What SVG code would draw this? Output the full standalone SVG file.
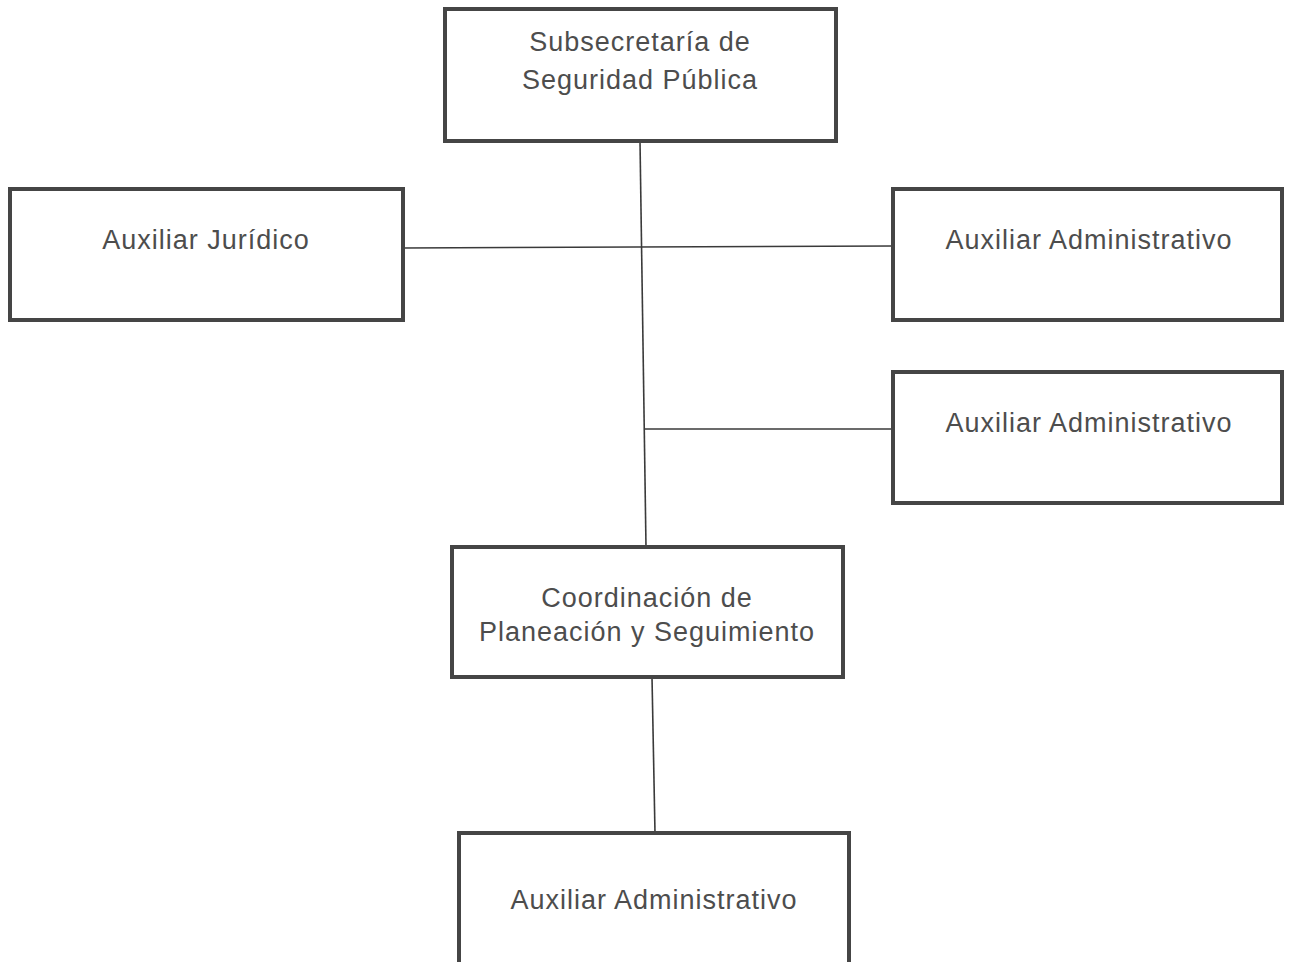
<svg xmlns="http://www.w3.org/2000/svg" width="1289" height="962" viewBox="0 0 1289 962">
<style>
.box{fill:#fff;stroke:#454545;stroke-width:4}
.t{font-family:"Liberation Sans",Arial,sans-serif;font-size:27px;fill:#4d4d4d;text-anchor:middle;letter-spacing:1px}
.c{stroke:#3a3a3a;stroke-width:1.6;fill:none}
</style>
<rect width="1289" height="962" fill="#fff"/>
<g id="connectors">
<line class="c" x1="640" y1="141" x2="646" y2="547"/>
<line class="c" x1="403" y1="248" x2="893" y2="246"/>
<line class="c" x1="645" y1="429" x2="893" y2="429"/>
<line class="c" x1="652" y1="677" x2="655" y2="833"/>
</g>
<g id="n1"><rect class="box" x="445" y="9" width="391" height="132"/>
<text class="t" x="640" y="51">Subsecretaría de</text>
<text class="t" x="640" y="89">Seguridad Pública</text></g>
<g id="n2"><rect class="box" x="10" y="189" width="393" height="131"/>
<text class="t" x="206" y="249">Auxiliar Jurídico</text></g>
<g id="n3"><rect class="box" x="893" y="189" width="389" height="131"/>
<text class="t" x="1089" y="249">Auxiliar Administrativo</text></g>
<g id="n4"><rect class="box" x="893" y="372" width="389" height="131"/>
<text class="t" x="1089" y="432">Auxiliar Administrativo</text></g>
<g id="n5"><rect class="box" x="452" y="547" width="391" height="130"/>
<text class="t" x="647" y="607">Coordinación de</text>
<text class="t" x="647" y="641">Planeación y Seguimiento</text></g>
<g id="n6"><rect class="box" x="459" y="833" width="390" height="132"/>
<text class="t" x="654" y="909">Auxiliar Administrativo</text></g>
</svg>
